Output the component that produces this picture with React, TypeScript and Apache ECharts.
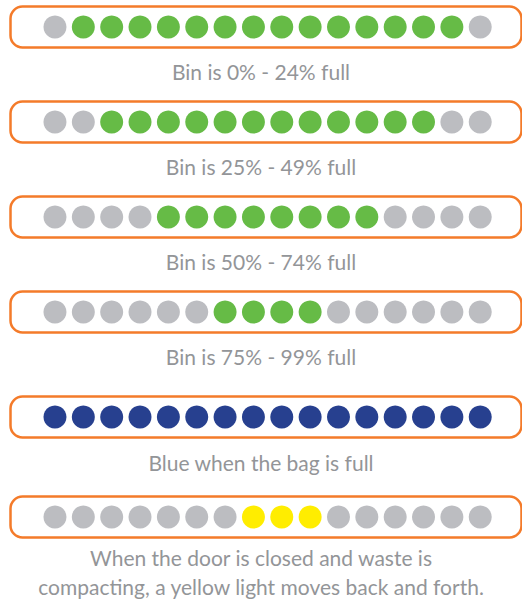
import React, { useEffect, useRef } from "react";
import * as echarts from "echarts";

// 16 lights per indicator strip
const lightSlots = ["1","2","3","4","5","6","7","8","9","10","11","12","13","14","15","16"];

// Light states per row: g = grey (off), G = green, B = blue, Y = yellow
const row1 = ["g","G","G","G","G","G","G","G","G","G","G","G","G","G","G","g"];
const row2 = ["g","g","G","G","G","G","G","G","G","G","G","G","G","G","g","g"];
const row3 = ["g","g","g","g","G","G","G","G","G","G","G","G","g","g","g","g"];
const row4 = ["g","g","g","g","g","g","G","G","G","G","g","g","g","g","g","g"];
const row5 = ["B","B","B","B","B","B","B","B","B","B","B","B","B","B","B","B"];
const row6 = ["g","g","g","g","g","g","g","Y","Y","Y","g","g","g","g","g","g"];

const rows = [row1, row2, row3, row4, row5, row6];

const captions = [
  "Bin is 0% - 24% full",
  "Bin is 25% - 49% full",
  "Bin is 50% - 74% full",
  "Bin is 75% - 99% full",
  "Blue when the bag is full",
  "When the door is closed and waste is\ncompacting, a yellow light moves back and forth.",
];

const COLORS: Record<string, string> = {
  g: "#BCBDC1",
  G: "#66BB46",
  B: "#27408F",
  Y: "#FFED00",
};

// layout (pixels)
const rowCenters = [27, 122, 217, 312, 417, 517];
const captionY = [71, 166, 261, 356, 462, 571.5];
const RECT_H = 41;
const FONT = "Lato, 'Open Sans', sans-serif";

export default function App() {
  const ref = useRef<HTMLDivElement>(null);
  useEffect(() => {
    if (!ref.current) return;
    const chart = echarts.init(ref.current, null, { renderer: "svg" });
    const grids: any[] = [];
    const xAxes: any[] = [];
    const yAxes: any[] = [];
    const series: any[] = [];
    const graphics: any[] = [];
    rows.forEach((row, i) => {
      const cy = rowCenters[i];
      grids.push({ left: 40.8, width: 453.6, top: cy - 10, height: 20 });
      xAxes.push({
        type: "category",
        gridIndex: i,
        data: lightSlots,
        show: false,
      });
      yAxes.push({ type: "category", gridIndex: i, data: ["row"], show: false });
      series.push({
        type: "scatter",
        xAxisIndex: i,
        yAxisIndex: i,
        symbol: "circle",
        symbolSize: 23,
        silent: true,
        itemStyle: { opacity: 1 },
        data: row.map((s, j) => ({
          value: [lightSlots[j], "row"],
          itemStyle: { color: COLORS[s], opacity: 1 },
        })),
      });
      graphics.push({
        type: "rect",
        shape: { x: 10.5, y: cy - RECT_H / 2, width: 511, height: RECT_H, r: 12 },
        style: { fill: "none", stroke: "#F47B2A", lineWidth: 2.5 },
        z: 0,
      });
      graphics.push({
        type: "text",
        x: 261,
        y: captionY[i],
        style: {
          text: captions[i],
          fill: "#939598",
          font: `21px ${FONT}`,
          textAlign: "center",
          textVerticalAlign: "middle",
          lineHeight: 29,
        },
      });
    });
    chart.setOption({
      animation: false,
      backgroundColor: "#ffffff",
      grid: grids,
      xAxis: xAxes,
      yAxis: yAxes,
      series,
      graphic: graphics,
    });
    return () => chart.dispose();
  }, []);
  return (
    <div
      ref={ref}
      style={{ position: "fixed", left: 0, top: 0, width: 522, height: 602 }}
    />
  );
}
